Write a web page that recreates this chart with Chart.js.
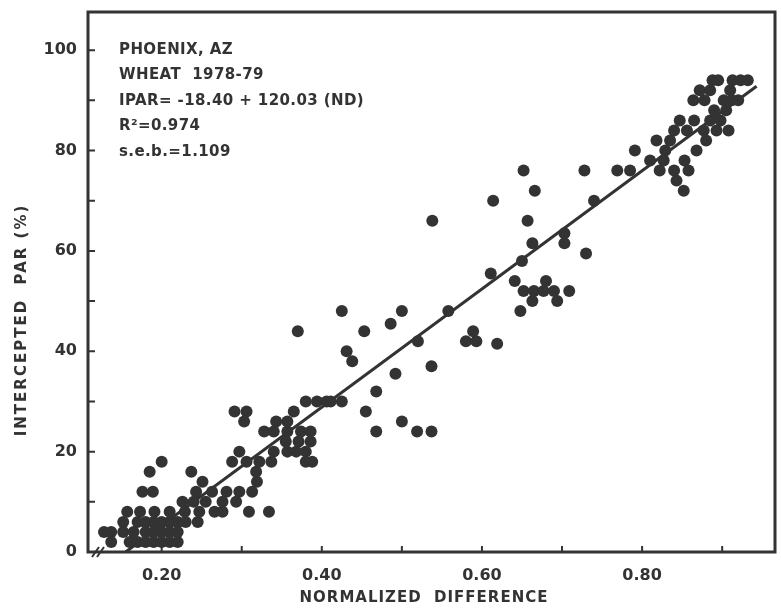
<!DOCTYPE html>
<html>
<head>
<meta charset="utf-8">
<script src="https://cdn.jsdelivr.net/npm/chart.js@4"></script>
<style>
  html, body { margin: 0; padding: 0; background: #ffffff; }
  canvas { display: block; }
</style>
</head>
<body>
<canvas id="c" width="781" height="608"></canvas>
<script>
// ---- data ----
const ndValues = [
  // IPAR ~2
  0.137, 0.160, 0.170, 0.180, 0.190, 0.200, 0.210, 0.220,
  // ~4
  0.128, 0.137, 0.152, 0.165, 0.180, 0.190, 0.200, 0.210, 0.220,
  // ~6
  0.152, 0.170, 0.180, 0.190, 0.200, 0.210, 0.220, 0.230, 0.245,
  // ~8
  0.157, 0.173, 0.191, 0.210, 0.229, 0.247, 0.266, 0.276, 0.309, 0.334,
  // ~10
  0.226, 0.240, 0.255, 0.276, 0.293,
  // ~12
  0.176, 0.189, 0.243, 0.263, 0.281, 0.297, 0.313,
  // ~14
  0.251, 0.319,
  // ~16
  0.185, 0.237, 0.318,
  // ~18
  0.200, 0.288, 0.306, 0.322, 0.337, 0.380, 0.388,
  // ~20
  0.297, 0.340, 0.357, 0.368, 0.380,
  // ~22
  0.355, 0.371, 0.386,
  // ~24
  0.328, 0.340, 0.357, 0.374, 0.386, 0.468, 0.519, 0.537,
  // ~26
  0.303, 0.343, 0.357, 0.500,
  // ~28
  0.291, 0.306, 0.365, 0.455,
  // ~30
  0.380, 0.394, 0.406, 0.411, 0.425,
  // 32 .. 45
  0.468, 0.492, 0.537, 0.438, 0.431,
  0.520, 0.580, 0.593, 0.619,
  0.370, 0.453, 0.589, 0.486,
  // ~48 .. 58
  0.425, 0.500, 0.558, 0.648,
  0.663, 0.694,
  0.652, 0.665, 0.677, 0.690, 0.709,
  0.641, 0.680, 0.611, 0.650,
  // ~59 .. 74
  0.730, 0.663, 0.703, 0.703,
  0.538, 0.657, 0.614, 0.740,
  0.666, 0.852, 0.843,
  // ~76
  0.652, 0.728, 0.769, 0.785, 0.822, 0.840, 0.858,
  // ~78 .. 82
  0.810, 0.827, 0.853,
  0.791, 0.829, 0.868,
  0.818, 0.835, 0.880,
  // ~84 .. 88
  0.840, 0.856, 0.877, 0.893, 0.908,
  0.847, 0.865, 0.885, 0.898,
  0.890, 0.905,
  // ~90 .. 94
  0.864, 0.878, 0.902, 0.912, 0.920,
  0.872, 0.885, 0.910,
  0.888, 0.895, 0.913, 0.923, 0.932
];
const iparValues = [
  2, 2, 2, 2, 2, 2, 2, 2,
  4, 4, 4, 4, 4, 4, 4, 4, 4,
  6, 6, 6, 6, 6, 6, 6, 6, 6,
  8, 8, 8, 8, 8, 8, 8, 8, 8, 8,
  10, 10, 10, 10, 10,
  12, 12, 12, 12, 12, 12, 12,
  14, 14,
  16, 16, 16,
  18, 18, 18, 18, 18, 18, 18,
  20, 20, 20, 20, 20,
  22, 22, 22,
  24, 24, 24, 24, 24, 24, 24, 24,
  26, 26, 26, 26,
  28, 28, 28, 28,
  30, 30, 30, 30, 30,
  32, 35.5, 37, 38, 40,
  42, 42, 42, 41.5,
  44, 44, 44, 45.5,
  48, 48, 48, 48,
  50, 50,
  52, 52, 52, 52, 52,
  54, 54, 55.5, 58,
  59.5, 61.5, 61.5, 63.5,
  66, 66, 70, 70,
  72, 72, 74,
  76, 76, 76, 76, 76, 76, 76,
  78, 78, 78,
  80, 80, 80,
  82, 82, 82,
  84, 84, 84, 84, 84,
  86, 86, 86, 86,
  88, 88,
  90, 90, 90, 90, 90,
  92, 92, 92,
  94, 94, 94, 94, 94
];
// fitted line end points
const fitND = [0.155, 0.943];
const fitPAR = [0, 92.8];

const xTickValues = [0.2, 0.3, 0.4, 0.5, 0.6, 0.7, 0.8, 0.9];
const xTickLabels = ['0.20', '', '0.40', '', '0.60', '', '0.80', ''];
const yTickValues = [0, 10, 20, 30, 40, 50, 60, 70, 80, 90, 100];
const yTickLabels = ['0', '', '20', '', '40', '', '60', '', '80', '', '100'];

const noteLines = ['PHOENIX, AZ', 'WHEAT  1978-79', 'IPAR= -18.40 + 120.03 (ND)', 'R\u00B2=0.974', 's.e.b.=1.109'];
const xTitle = 'NORMALIZED  DIFFERENCE';
const yTitle = 'INTERCEPTED  PAR (%)';

// ---- chart ----
const INK = '#333333';
const FONT = '"DejaVu Sans", "Liberation Sans", sans-serif';

const points = ndValues.map((v, i) => ({ x: v, y: iparValues[i] }));
const fitLine = fitND.map((v, i) => ({ x: v, y: fitPAR[i] }));

const zeroPad = s => { s.paddingTop = 0; s.paddingBottom = 0; s.paddingLeft = 0; s.paddingRight = 0; };

const decor = {
  id: 'decor',
  afterDatasetsDraw(chart) {
    const { ctx, chartArea: a, scales } = chart;
    const xs = scales.x, ys = scales.y;
    ctx.save();
    ctx.strokeStyle = INK;
    ctx.lineWidth = 3;
    ctx.strokeRect(a.left, a.top, a.right - a.left, a.bottom - a.top);
    ctx.lineWidth = 2;
    ctx.beginPath();
    xTickValues.forEach(v => {
      const px = xs.getPixelForValue(v);
      ctx.moveTo(px, a.bottom);
      ctx.lineTo(px, a.bottom - 6);
    });
    yTickValues.forEach(v => {
      const py = ys.getPixelForValue(v);
      ctx.moveTo(a.left, py);
      ctx.lineTo(a.left + 7, py);
    });
    ctx.stroke();
    // axis break mark
    ctx.lineWidth = 2;
    ctx.beginPath();
    ctx.moveTo(a.left + 4, a.bottom + 5); ctx.lineTo(a.left + 11, a.bottom - 5);
    ctx.moveTo(a.left + 9, a.bottom + 5); ctx.lineTo(a.left + 16, a.bottom - 5);
    ctx.stroke();

    ctx.fillStyle = INK;
    ctx.font = 'bold 15px ' + FONT;
    ctx.textBaseline = 'middle';
    ctx.textAlign = 'left';
    ctx.letterSpacing = '0.4px';
    noteLines.forEach((t, i) => ctx.fillText(t, 119, 50 + i * 25.5));

    ctx.font = 'bold 15px ' + FONT;
    ctx.textAlign = 'center';
    ctx.letterSpacing = '1px';
    ctx.fillText(xTitle, 424, 598);
    ctx.translate(22, 320);
    ctx.rotate(-Math.PI / 2);
    ctx.letterSpacing = '2px';
    ctx.fillText(yTitle, 0, 0);
    ctx.restore();
  }
};

new Chart(document.getElementById('c'), {
  type: 'scatter',
  data: {
    datasets: [
      {
        label: 'observed',
        data: points,
        backgroundColor: INK,
        borderWidth: 0,
        pointRadius: 6,
        pointHoverRadius: 6
      },
      {
        label: 'fit',
        type: 'line',
        data: fitLine,
        borderColor: INK,
        borderWidth: 3,
        pointRadius: 0,
        fill: false
      }
    ]
  },
  options: {
    responsive: false,
    devicePixelRatio: 1,
    animation: false,
    layout: { padding: { top: 12, right: 2, left: 0, bottom: 0 } },
    plugins: { legend: { display: false }, tooltip: { enabled: false } },
    scales: {
      x: {
        type: 'linear',
        min: 0.108,
        max: 0.966,
        afterBuildTicks: s => { s.ticks = xTickValues.map(v => ({ value: v })); },
        afterFit: s => { s.height = 56; zeroPad(s); },
        grid: { display: false, drawTicks: false },
        border: { display: false },
        ticks: {
          autoSkip: false,
          maxRotation: 0,
          padding: 14,
          color: INK,
          font: { family: FONT, size: 16, weight: 'bold' },
          callback: (v) => { const i = xTickValues.findIndex(t => Math.abs(t - v) < 1e-6); return i >= 0 ? xTickLabels[i] : ''; }
        }
      },
      y: {
        type: 'linear',
        min: 0,
        max: 107.6,
        afterBuildTicks: s => { s.ticks = yTickValues.map(v => ({ value: v })); },
        afterFit: s => { s.width = 88; zeroPad(s); },
        grid: { display: false, drawTicks: false },
        border: { display: false },
        ticks: {
          autoSkip: false,
          padding: 11,
          color: INK,
          font: { family: FONT, size: 16, weight: 'bold' },
          callback: (v) => { const i = yTickValues.indexOf(v); return i >= 0 ? yTickLabels[i] : ''; }
        }
      }
    }
  },
  plugins: [decor]
});
</script>
</body>
</html>
